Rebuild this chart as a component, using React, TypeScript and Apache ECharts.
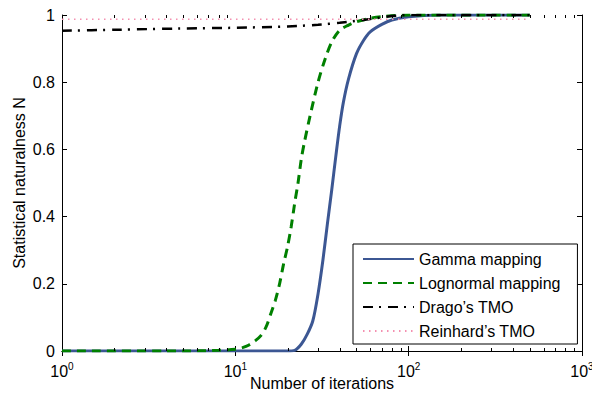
import React, { useEffect, useRef } from "react";
import * as echarts from "echarts";

const gammaX = [1, 5, 10, 15, 20, 22, 24, 26, 28, 30, 32, 34, 36, 38, 40, 42, 45, 50, 55, 60, 70, 80, 100, 150, 200, 300, 500];
const gammaY = [0, 0, 0, 0, 0, 0.002, 0.02, 0.05, 0.09, 0.17, 0.27, 0.38, 0.48, 0.58, 0.67, 0.74, 0.81, 0.885, 0.925, 0.95, 0.972, 0.985, 0.995, 1, 1, 1, 1];

const lognormalX = [1, 5, 8, 10, 11, 12, 13, 14, 15, 16, 17, 18, 19, 20, 21, 22, 23, 24, 25, 27, 30, 33, 36, 40, 45, 50, 60, 70, 100, 200, 500];
const lognormalY = [0, 0, 0.002, 0.005, 0.01, 0.018, 0.03, 0.045, 0.07, 0.11, 0.15, 0.2, 0.26, 0.31, 0.37, 0.44, 0.5, 0.57, 0.62, 0.7, 0.8, 0.87, 0.92, 0.955, 0.97, 0.98, 0.99, 0.995, 1, 1, 1];

const dragoX = [1, 2, 5, 10, 20, 30, 40, 50, 60, 70, 80, 100, 200, 500];
const dragoY = [0.953, 0.956, 0.96, 0.962, 0.966, 0.971, 0.977, 0.983, 0.988, 0.993, 0.997, 1, 1, 1];

const reinhardX = [1, 500];
const reinhardY = [0.987, 0.987];

const xTickExponents = [0, 1, 2, 3];
const minorTicks = [2, 3, 4, 5, 6, 7, 8, 9, 20, 30, 40, 50, 60, 70, 80, 90, 200, 300, 400, 500, 600, 700, 800, 900];

const seriesNames = ["Gamma mapping", "Lognormal mapping", "Drago\u2019s TMO", "Reinhard\u2019s TMO"];

const FONT = "'Liberation Sans', Arial, Helvetica, sans-serif";

const pairs = (xs: number[], ys: number[]) => xs.map((x, i) => [x, ys[i]]);

export default function App() {
  const ref = useRef<HTMLDivElement>(null);
  useEffect(() => {
    if (!ref.current) return;
    const chart = echarts.init(ref.current, null, { renderer: "svg" });
    const axisCommon = {
      axisLine: { show: true, lineStyle: { color: "#000", width: 1 } },
      splitLine: { show: false },
    };
    chart.setOption({
      animation: false,
      backgroundColor: "#fff",
      textStyle: { fontFamily: FONT },
      grid: { left: 62, right: 10, top: 15, bottom: 47, outerBoundsMode: "none", containLabel: false },
      legend: {
        data: seriesNames,
        orient: "vertical",
        left: 353,
        top: 244,
        itemWidth: 51,
        itemHeight: 14,
        itemGap: 8,
        padding: [7, 17, 5, 9],
        backgroundColor: "#fff",
        borderColor: "#000",
        borderWidth: 1,
        borderRadius: 0,
        itemStyle: { opacity: 0 },
        textStyle: { fontFamily: FONT, fontSize: 16, color: "#000", padding: [0, 0, 0, 0] },
      },
      xAxis: [
        {
          type: "log",
          logBase: 10,
          min: 1,
          max: 1000,
          position: "bottom",
          ...axisCommon,
          axisTick: { show: true, inside: true, length: 5, lineStyle: { color: "#000" } },
          axisLabel: {
            margin: 10,
            formatter: (v: number) => {
              const e = Math.round(Math.log10(v));
              return xTickExponents.includes(e) ? `{b|10}{s|${e}}` : "";
            },
            rich: {
              b: { fontSize: 16, fontFamily: FONT, color: "#000", verticalAlign: "middle", lineHeight: 20 },
              s: { fontSize: 10, fontFamily: FONT, color: "#000", verticalAlign: "top", lineHeight: 8 },
            },
          },
          name: "Number of iterations",
          nameLocation: "middle",
          nameGap: 24,
          nameMoveOverlap: false,
          nameTextStyle: { fontFamily: FONT, fontSize: 16, color: "#000" },
        },
        {
          type: "log",
          logBase: 10,
          min: 1,
          max: 1000,
          position: "top",
          ...axisCommon,
          axisTick: { show: true, inside: true, length: 5, lineStyle: { color: "#000" } },
          axisLabel: { show: false },
        },
      ],
      yAxis: [
        {
          type: "value",
          min: 0,
          max: 1,
          interval: 0.2,
          position: "left",
          ...axisCommon,
          axisTick: { show: true, inside: true, length: 5, lineStyle: { color: "#000" } },
          axisLabel: {
            margin: 7,
            fontSize: 16,
            fontFamily: FONT,
            color: "#000",
            formatter: (v: number) => String(Math.round(v * 10) / 10),
          },
          name: "Statistical naturalness N",
          nameLocation: "middle",
          nameGap: 35,
          nameMoveOverlap: false,
          nameTextStyle: { fontFamily: FONT, fontSize: 16, color: "#000" },
        },
        {
          type: "value",
          min: 0,
          max: 1,
          interval: 0.2,
          position: "right",
          ...axisCommon,
          axisTick: { show: true, inside: true, length: 5, lineStyle: { color: "#000" } },
          axisLabel: { show: false },
        },
      ],
      series: [
        {
          type: "custom",
          name: "minorTicks",
          xAxisIndex: 0,
          yAxisIndex: 0,
          silent: true,
          clip: false,
          data: minorTicks.map((m) => [m, 0]),
          encode: { x: 0, y: 1 },
          renderItem: (params: any, api: any) => {
            const cs = params.coordSys;
            const p = api.coord([api.value(0), 0]);
            const x = Math.round(p[0]) + 0.5;
            const top = cs.y;
            const bottom = cs.y + cs.height;
            const style = { stroke: "#000", lineWidth: 1 };
            return {
              type: "group",
              children: [
                { type: "line", shape: { x1: x, y1: bottom, x2: x, y2: bottom - 3 }, style },
                { type: "line", shape: { x1: x, y1: top, x2: x, y2: top + 3 }, style },
              ],
            };
          },
          z: 10,
        },
        {
          name: seriesNames[0],
          type: "line",
          data: pairs(gammaX, gammaY),
          showSymbol: false,
          symbol: "none",
          smooth: 0.3,
          lineStyle: { color: "#3C5793", width: 3 },
          itemStyle: { color: "#3C5793" },
          z: 2,
        },
        {
          name: seriesNames[1],
          type: "line",
          data: pairs(lognormalX, lognormalY),
          showSymbol: false,
          symbol: "none",
          smooth: 0.3,
          lineStyle: { color: "#008000", width: 3, type: [9, 6] },
          itemStyle: { color: "#008000" },
          z: 3,
        },
        {
          name: seriesNames[2],
          type: "line",
          data: pairs(dragoX, dragoY),
          showSymbol: false,
          symbol: "none",
          smooth: 0.3,
          lineStyle: { color: "#000", width: 2.5, type: [10, 6, 2, 7] },
          itemStyle: { color: "#000" },
          z: 4,
        },
        {
          name: seriesNames[3],
          type: "line",
          data: pairs(reinhardX, reinhardY),
          showSymbol: false,
          symbol: "none",
          lineStyle: { color: "#F490B0", width: 1.5, type: [1.5, 4.5] },
          itemStyle: { color: "#F490B0" },
          z: 5,
        },
      ],
    });
    return () => chart.dispose();
  }, []);
  return <div ref={ref} style={{ position: "fixed", left: 0, top: 0, width: 592, height: 398 }} />;
}
